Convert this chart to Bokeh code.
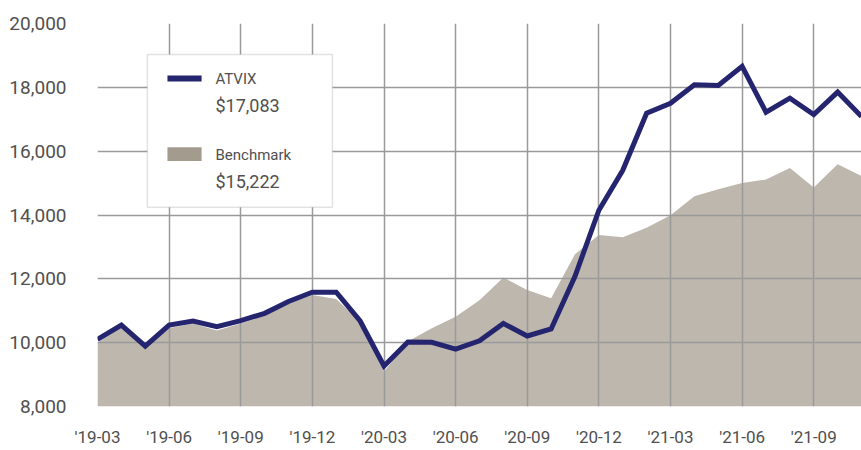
from bokeh.plotting import figure
from bokeh.models import FixedTicker, NumeralTickFormatter, BoxAnnotation, Label, ColumnDataSource
from bokeh.embed import file_html
from bokeh.resources import INLINE

# ---- data ----
months = ["'19-03", "'19-04", "'19-05", "'19-06", "'19-07", "'19-08", "'19-09", "'19-10", "'19-11",
          "'19-12", "'20-01", "'20-02", "'20-03", "'20-04", "'20-05", "'20-06", "'20-07", "'20-08",
          "'20-09", "'20-10", "'20-11", "'20-12", "'21-01", "'21-02", "'21-03", "'21-04", "'21-05",
          "'21-06", "'21-07", "'21-08", "'21-09", "'21-10", "'21-11"]
atvix = [10100, 10550, 9890, 10550, 10680, 10500, 10690, 10920, 11290,
         11580, 11580, 10680, 9270, 10020, 10010, 9800, 10060, 10600,
         10210, 10430, 12080, 14150, 15400, 17190, 17500, 18080, 18060,
         18660, 17220, 17660, 17150, 17850, 17083]
benchmark = [10000, 10480, 9860, 10460, 10600, 10380, 10600, 10850, 11220,
             11490, 11370, 10650, 9090, 10040, 10450, 10810, 11330, 12040,
             11650, 11390, 12770, 13370, 13300, 13600, 13990, 14590, 14810,
             15000, 15110, 15470, 14860, 15590, 15222]
tick_labels = ["'19-03", "'19-06", "'19-09", "'19-12", "'20-03", "'20-06", "'20-09",
               "'20-12", "'21-03", "'21-06", "'21-09"]
y_ticks = [8000, 10000, 12000, 14000, 16000, 18000, 20000]
series_names = ["ATVIX", "Benchmark"]

FONT = "Roboto"
TXT = "#505050"
NAVY = "#25256f"
SAND = "#bdb7ae"
SWATCH = "#a39b8e"
GRID = "#9a9a9a"

idx = list(range(len(months)))
src = ColumnDataSource(dict(x=idx, atvix=atvix, bench=benchmark,
                            base=[y_ticks[0]] * len(months)))

p = figure(width=861, height=450, output_backend="svg", toolbar_location=None,
           x_range=(0, len(months) - 1), y_range=(y_ticks[0], y_ticks[-1]),
           min_border_left=97, min_border_right=0, min_border_top=23, min_border_bottom=44)
p.outline_line_color = None
p.background_fill_color = "white"
p.border_fill_color = "white"

area = p.varea(x="x", y1="base", y2="bench", source=src, fill_color=SAND, level="image")
line = p.line(x="x", y="atvix", source=src, line_color=NAVY, line_width=5, line_join="miter")

# axes
tick_pos = [months.index(t) for t in tick_labels]
p.xaxis.ticker = FixedTicker(ticks=tick_pos)
p.xaxis.major_label_overrides = {pos: lab for pos, lab in zip(tick_pos, tick_labels)}
p.yaxis.ticker = FixedTicker(ticks=y_ticks)
p.yaxis.formatter = NumeralTickFormatter(format="0,0")
for ax in (p.xaxis, p.yaxis):
    ax.axis_line_color = None
    ax.major_tick_line_color = None
    ax.minor_tick_line_color = None
    ax.major_tick_out = 0
    ax.major_tick_in = 0
    ax.major_label_text_font = FONT
    ax.major_label_text_color = TXT
p.yaxis.major_label_text_font_size = "19px"
p.xaxis.major_label_text_font_size = "17px"
p.xaxis.major_label_standoff = 20
p.yaxis.major_label_standoff = 31

p.xgrid.ticker = FixedTicker(ticks=tick_pos)
p.ygrid.ticker = FixedTicker(ticks=y_ticks)
for g in (p.xgrid, p.ygrid):
    g.grid_line_color = GRID
    g.grid_line_width = 1.5

# legend (manual)
p.add_layout(BoxAnnotation(left=2.09, right=9.84, top=19030, bottom=14240,
                           fill_color="white", fill_alpha=1.0,
                           line_color="#a0a0a0", line_width=1.5, level="annotation"))
p.add_layout(BoxAnnotation(left=2.93, right=4.36, top=18370, bottom=18185,
                           fill_color=NAVY, fill_alpha=1.0, line_color=None, level="annotation"))
p.add_layout(BoxAnnotation(left=2.93, right=4.36, top=16120, bottom=15690,
                           fill_color=SWATCH, fill_alpha=1.0, line_color=None, level="annotation"))
legend_texts = [
    (series_names[0], 18250, "15px"),
    ("${:,.0f}".format(atvix[-1]), 17430, "18px"),
    (series_names[1], 15870, "15px"),
    ("${:,.0f}".format(benchmark[-1]), 15060, "18px"),
]
for txt, yv, fs in legend_texts:
    p.add_layout(Label(x=4.94, y=yv, text=txt, text_font=FONT, text_font_size=fs,
                       text_color=TXT, text_baseline="middle", text_align="left"))

open("out.html", "w").write(file_html(p, INLINE))
